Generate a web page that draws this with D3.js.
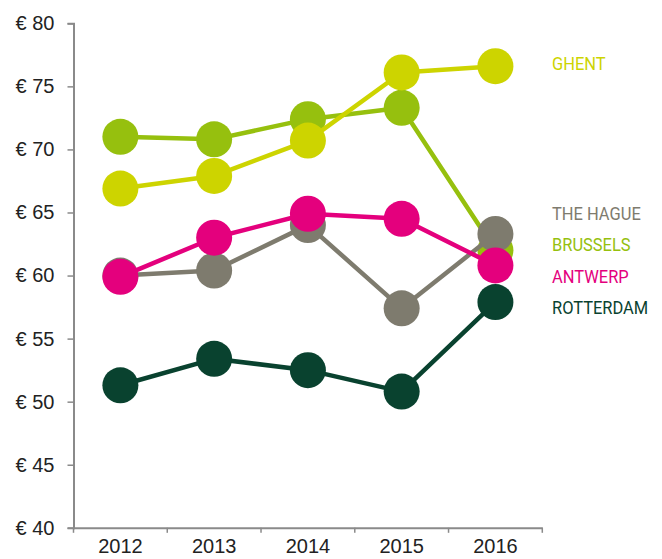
<!DOCTYPE html>
<html>
<head>
<meta charset="utf-8">
<script src="https://cdn.jsdelivr.net/npm/d3@7"></script>
<style>
  html, body { margin: 0; padding: 0; background: #fff; }
  svg { display: block; }
</style>
</head>
<body>
<svg id="chart" width="662" height="559"></svg>
<script>
const years = ["2012", "2013", "2014", "2015", "2016"];
const cities = ["BRUSSELS", "GHENT", "THE HAGUE", "ANTWERP", "ROTTERDAM"];
const brussels  = [71.0, 70.8, 72.4, 73.3, 62.0];
const ghent     = [66.9, 67.9, 70.7, 76.1, 76.6];
const theHague  = [60.0, 60.4, 64.0, 57.4, 63.3];
const antwerp   = [59.9, 63.0, 64.9, 64.5, 60.8];
const rotterdam = [51.3, 53.4, 52.5, 50.8, 57.9];
const yTicks = [40, 45, 50, 55, 60, 65, 70, 75, 80];
const colors = ["#96c00e", "#cdd400", "#7e7b6e", "#e4007d", "#09422f"];

const seriesValues = [brussels, ghent, theHague, antwerp, rotterdam];
const series = cities.map((c, i) => ({ name: c, values: seriesValues[i], color: colors[i] }));

const svg = d3.select("#chart");
const mLeft = 73.5, mRight = 542.3, mTop = 23.3, mBottom = 527.8;

const x = d3.scaleBand().domain(years).range([mLeft, mRight]).padding(0);
const y = d3.scaleLinear().domain([40, 80]).range([mBottom, mTop]);

const axisColor = "#8a8a8a";
const tickFont = "'Liberation Sans', Arial, sans-serif";

// Y axis
const yAxis = svg.append("g")
  .attr("transform", `translate(${mLeft},0)`)
  .call(d3.axisLeft(y).tickValues(yTicks).tickSize(6).tickPadding(13).tickFormat(d => "€ " + d));
yAxis.select(".domain").attr("stroke", axisColor).attr("stroke-width", 2);
yAxis.selectAll(".tick line").attr("stroke", axisColor).attr("stroke-width", 1.5);
yAxis.selectAll(".tick text")
  .attr("fill", "#222")
  .style("font-family", tickFont)
  .style("font-size", "20px");

// X axis (labels)
const xAxis = svg.append("g")
  .attr("transform", `translate(0,${mBottom})`)
  .call(d3.axisBottom(x).tickSize(0).tickPadding(11));
xAxis.select(".domain").attr("stroke", axisColor).attr("stroke-width", 2);
xAxis.selectAll(".tick text")
  .attr("fill", "#222")
  .style("font-family", tickFont)
  .style("font-size", "20px");
// boundary ticks
const bounds = years.map(d => x(d)).concat([x(years[years.length - 1]) + x.bandwidth()]);
svg.append("g").selectAll("line").data(bounds).join("line")
  .attr("x1", d => d).attr("x2", d => d)
  .attr("y1", mBottom).attr("y2", mBottom + 5)
  .attr("stroke", axisColor).attr("stroke-width", 1.5);

// Lines and dots
const cx = d => x(d) + x.bandwidth() / 2;
const line = d3.line().x((v, i) => cx(years[i])).y(v => y(v));

series.forEach(s => {
  const g = svg.append("g");
  g.append("path")
    .attr("d", line(s.values))
    .attr("fill", "none")
    .attr("stroke", s.color)
    .attr("stroke-width", 4.5)
    .attr("stroke-linejoin", "round");
  g.selectAll("circle").data(s.values).join("circle")
    .attr("cx", (v, i) => cx(years[i]))
    .attr("cy", v => y(v))
    .attr("r", 18)
    .attr("fill", s.color);
});

// End labels with simple overlap resolution
const spacing = 31.5;
const labels = series.map(s => ({ name: s.name, color: s.color, y: y(s.values[s.values.length - 1]) }))
  .sort((a, b) => a.y - b.y);
for (let iter = 0; iter < 200; iter++) {
  for (let i = 0; i < labels.length - 1; i++) {
    const a = labels[i], b = labels[i + 1];
    const gap = b.y - a.y;
    if (gap < spacing) {
      const push = (spacing - gap) / 2;
      a.y -= push; b.y += push;
    }
  }
}
svg.append("g").selectAll("text").data(labels).join("text")
  .attr("transform", d => `translate(552,${d.y + 4}) scale(0.89,1)`)
  .attr("fill", d => d.color)
  .style("font-family", "Roboto, 'Noto Sans', sans-serif")
  .style("font-size", "18.5px")
  .style("font-weight", 400)
  .text(d => d.name);
</script>
</body>
</html>
